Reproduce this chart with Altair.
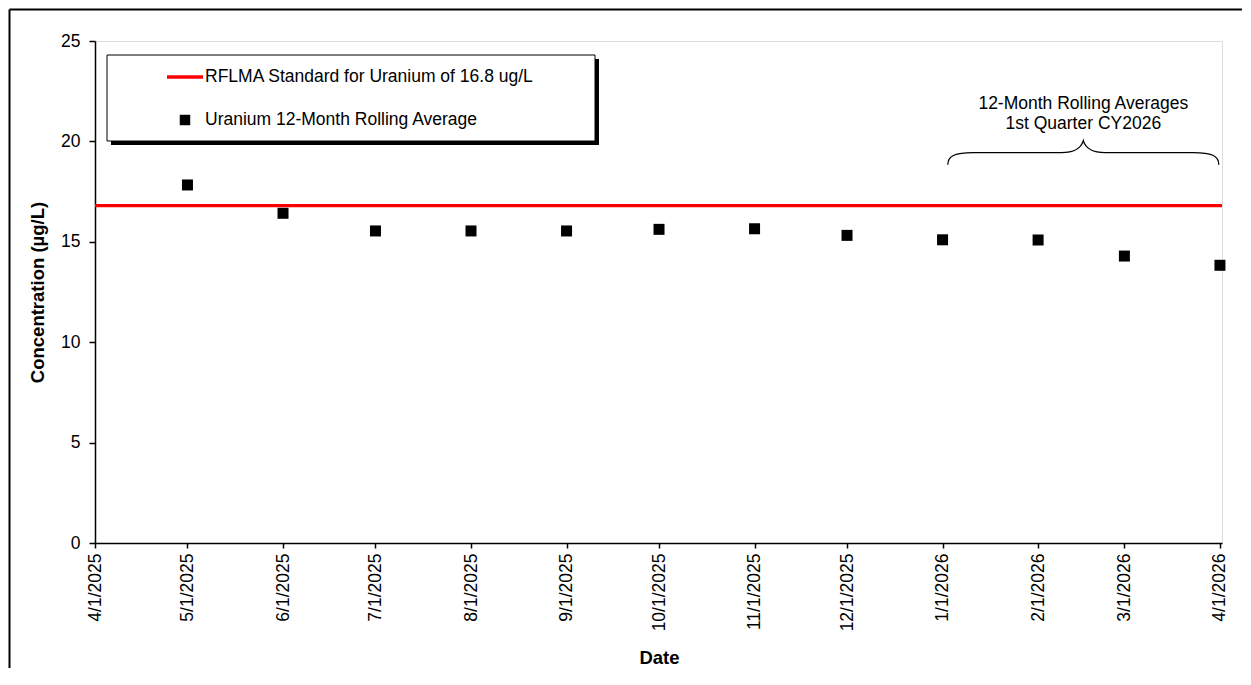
import altair as alt
import pandas as pd

# ---------------- data ----------------
dates = ["2025-05-01", "2025-06-01", "2025-07-01", "2025-08-01", "2025-09-01", "2025-10-01",
         "2025-11-01", "2025-12-01", "2026-01-01", "2026-02-01", "2026-03-01", "2026-04-01"]
uranium = [17.83, 16.42, 15.54, 15.54, 15.54, 15.62, 15.65, 15.32, 15.10, 15.09, 14.29, 13.83]

standard_value = [16.8]

tick_dates = [(2025, 4), (2025, 5), (2025, 6), (2025, 7), (2025, 8), (2025, 9), (2025, 10),
              (2025, 11), (2025, 12), (2026, 1), (2026, 2), (2026, 3), (2026, 4)]
y_ticks = [0, 5, 10, 15, 20, 25]

legend_labels = ["RFLMA Standard for Uranium of 16.8 ug/L", "Uranium 12-Month Rolling Average"]

annotation_lines = ["12-Month Rolling Averages", "1st Quarter CY2026"]
annotation_x = ["2026-02-15T16:00:00Z", "2026-02-15T16:00:00Z"]
annotation_y = [21.86, 20.87]

brace_x = ["2026-02-15T16:00:00Z"]
brace_y = [19.44]

# ---------------- tables ----------------
df_pts = pd.DataFrame({"date": dates, "value": uranium})
df_std = pd.DataFrame({"value": standard_value})
df_ann = pd.DataFrame({"date": annotation_x, "value": annotation_y, "label": annotation_lines})
df_brace = pd.DataFrame({"date": brace_x, "value": brace_y})
one = pd.DataFrame({"k": [0]})

FONT = "Liberation Sans"
FS = 17.5

x_scale = alt.Scale(
    type="utc",
    domain=[alt.DateTime(year=2025, month=4, date=1, utc=True),
            alt.DateTime(year=2026, month=4, date=1, hours=16, utc=True)],
)
y_scale = alt.Scale(domain=[0, 25], nice=False, zero=True)

x_axis = alt.Axis(
    values=[alt.DateTime(year=y, month=m, date=1, utc=True) for (y, m) in tick_dates],
    labelExpr="utcFormat(datum.value, '%-m/%-d/%Y')",
    labelAngle=270, labelAlign="right", labelBaseline="middle",
    labelFontSize=FS, labelPadding=5, labelFlush=False, labelOverlap=False, labelBound=False,
    tickSize=5, tickColor="black", tickWidth=1.5,
    domainColor="black", domainWidth=1.5, grid=False,
    title="Date", titleFontSize=18.5, titleFontWeight="bold",
    titleX=564, titleY=114, titleAlign="center", titleBaseline="middle",
)
y_axis = alt.Axis(
    values=y_ticks, labelFontSize=FS, labelPadding=9,
    tickSize=6, tickColor="black", tickWidth=1.5,
    domainColor="black", domainWidth=1.5, grid=False,
    title="Concentration (µg/L)", titleFontSize=18.5, titleFontWeight="bold",
    titleAngle=270, titleX=-58, titleY=251, titleAlign="center", titleBaseline="middle",
)

X = alt.X("date:T", scale=x_scale, axis=x_axis)
Y = alt.Y("value:Q", scale=y_scale, axis=y_axis)

std_rule = alt.Chart(df_std).mark_rule(color="#ff0000", strokeWidth=3.3).encode(y=Y)

points = alt.Chart(df_pts).mark_square(size=121, color="black", opacity=1).encode(x=X, y=Y)

BRACE = ("M -1 0.0886 C -1 0.0221 -0.9446 0 -0.8118 0 L -0.1624 0 "
         "C -0.059 0 -0.0148 -0.0369 0 -0.0886 C 0.0148 -0.0369 0.059 0 0.1624 0 "
         "L 0.8118 0 C 0.9446 0 1 0.0221 1 0.0886")
brace = alt.Chart(df_brace).mark_point(
    shape=BRACE, size=271 * 271, filled=False, color="black", strokeWidth=1.3, opacity=1
).encode(x=X, y=Y)

ann = alt.Chart(df_ann).mark_text(
    fontSize=FS, font=FONT, color="black", align="center", baseline="middle"
).encode(x=X, y=Y, text="label:N")

# legend box (drawn)
shadow = alt.Chart(one).mark_rect(color="black").encode(
    x=alt.value(16), x2=alt.value(504), y=alt.value(18), y2=alt.value(104))
box = alt.Chart(one).mark_rect(fill="white", stroke="black", strokeWidth=1).encode(
    x=alt.value(12), x2=alt.value(500), y=alt.value(14), y2=alt.value(100))
leg_line = alt.Chart(one).mark_rule(color="#ff0000", strokeWidth=3.3).encode(
    x=alt.value(72), x2=alt.value(108), y=alt.value(36))
leg_sq = alt.Chart(one).mark_square(size=110, color="black", opacity=1).encode(
    x=alt.value(90), y=alt.value(79))
leg_t1 = alt.Chart(one).mark_text(fontSize=FS, font=FONT, align="left", baseline="middle", color="black").encode(
    x=alt.value(110), y=alt.value(36), text=alt.value(legend_labels[0]))
leg_t2 = alt.Chart(one).mark_text(fontSize=FS, font=FONT, align="left", baseline="middle", color="black").encode(
    x=alt.value(110), y=alt.value(79), text=alt.value(legend_labels[1]))

# outer frame (left and top edges)
frame_top = alt.Chart(one).mark_rule(color="black", strokeWidth=2).encode(
    x=alt.value(-85.5), x2=alt.value(1200), y=alt.value(-31.5))
frame_left = alt.Chart(one).mark_rule(color="black", strokeWidth=2).encode(
    x=alt.value(-85.5), y=alt.value(-31.5), y2=alt.value(700))

chart = alt.layer(
    std_rule, points, brace, ann,
    shadow, box, leg_line, leg_sq, leg_t1, leg_t2,
    frame_top, frame_left,
).properties(
    width=1127, height=502,
    autosize=alt.AutoSizeParams(type="none"),
    padding={"left": 87, "top": 33, "right": 20, "bottom": 125},
).configure_view(
    stroke="#808080", strokeWidth=2
).configure(
    font=FONT, background="white"
).configure_axis(
    labelColor="black", titleColor="black", labelFont=FONT, titleFont=FONT
)

chart.save("out.html", embed_options={"renderer": "svg", "actions": False})
